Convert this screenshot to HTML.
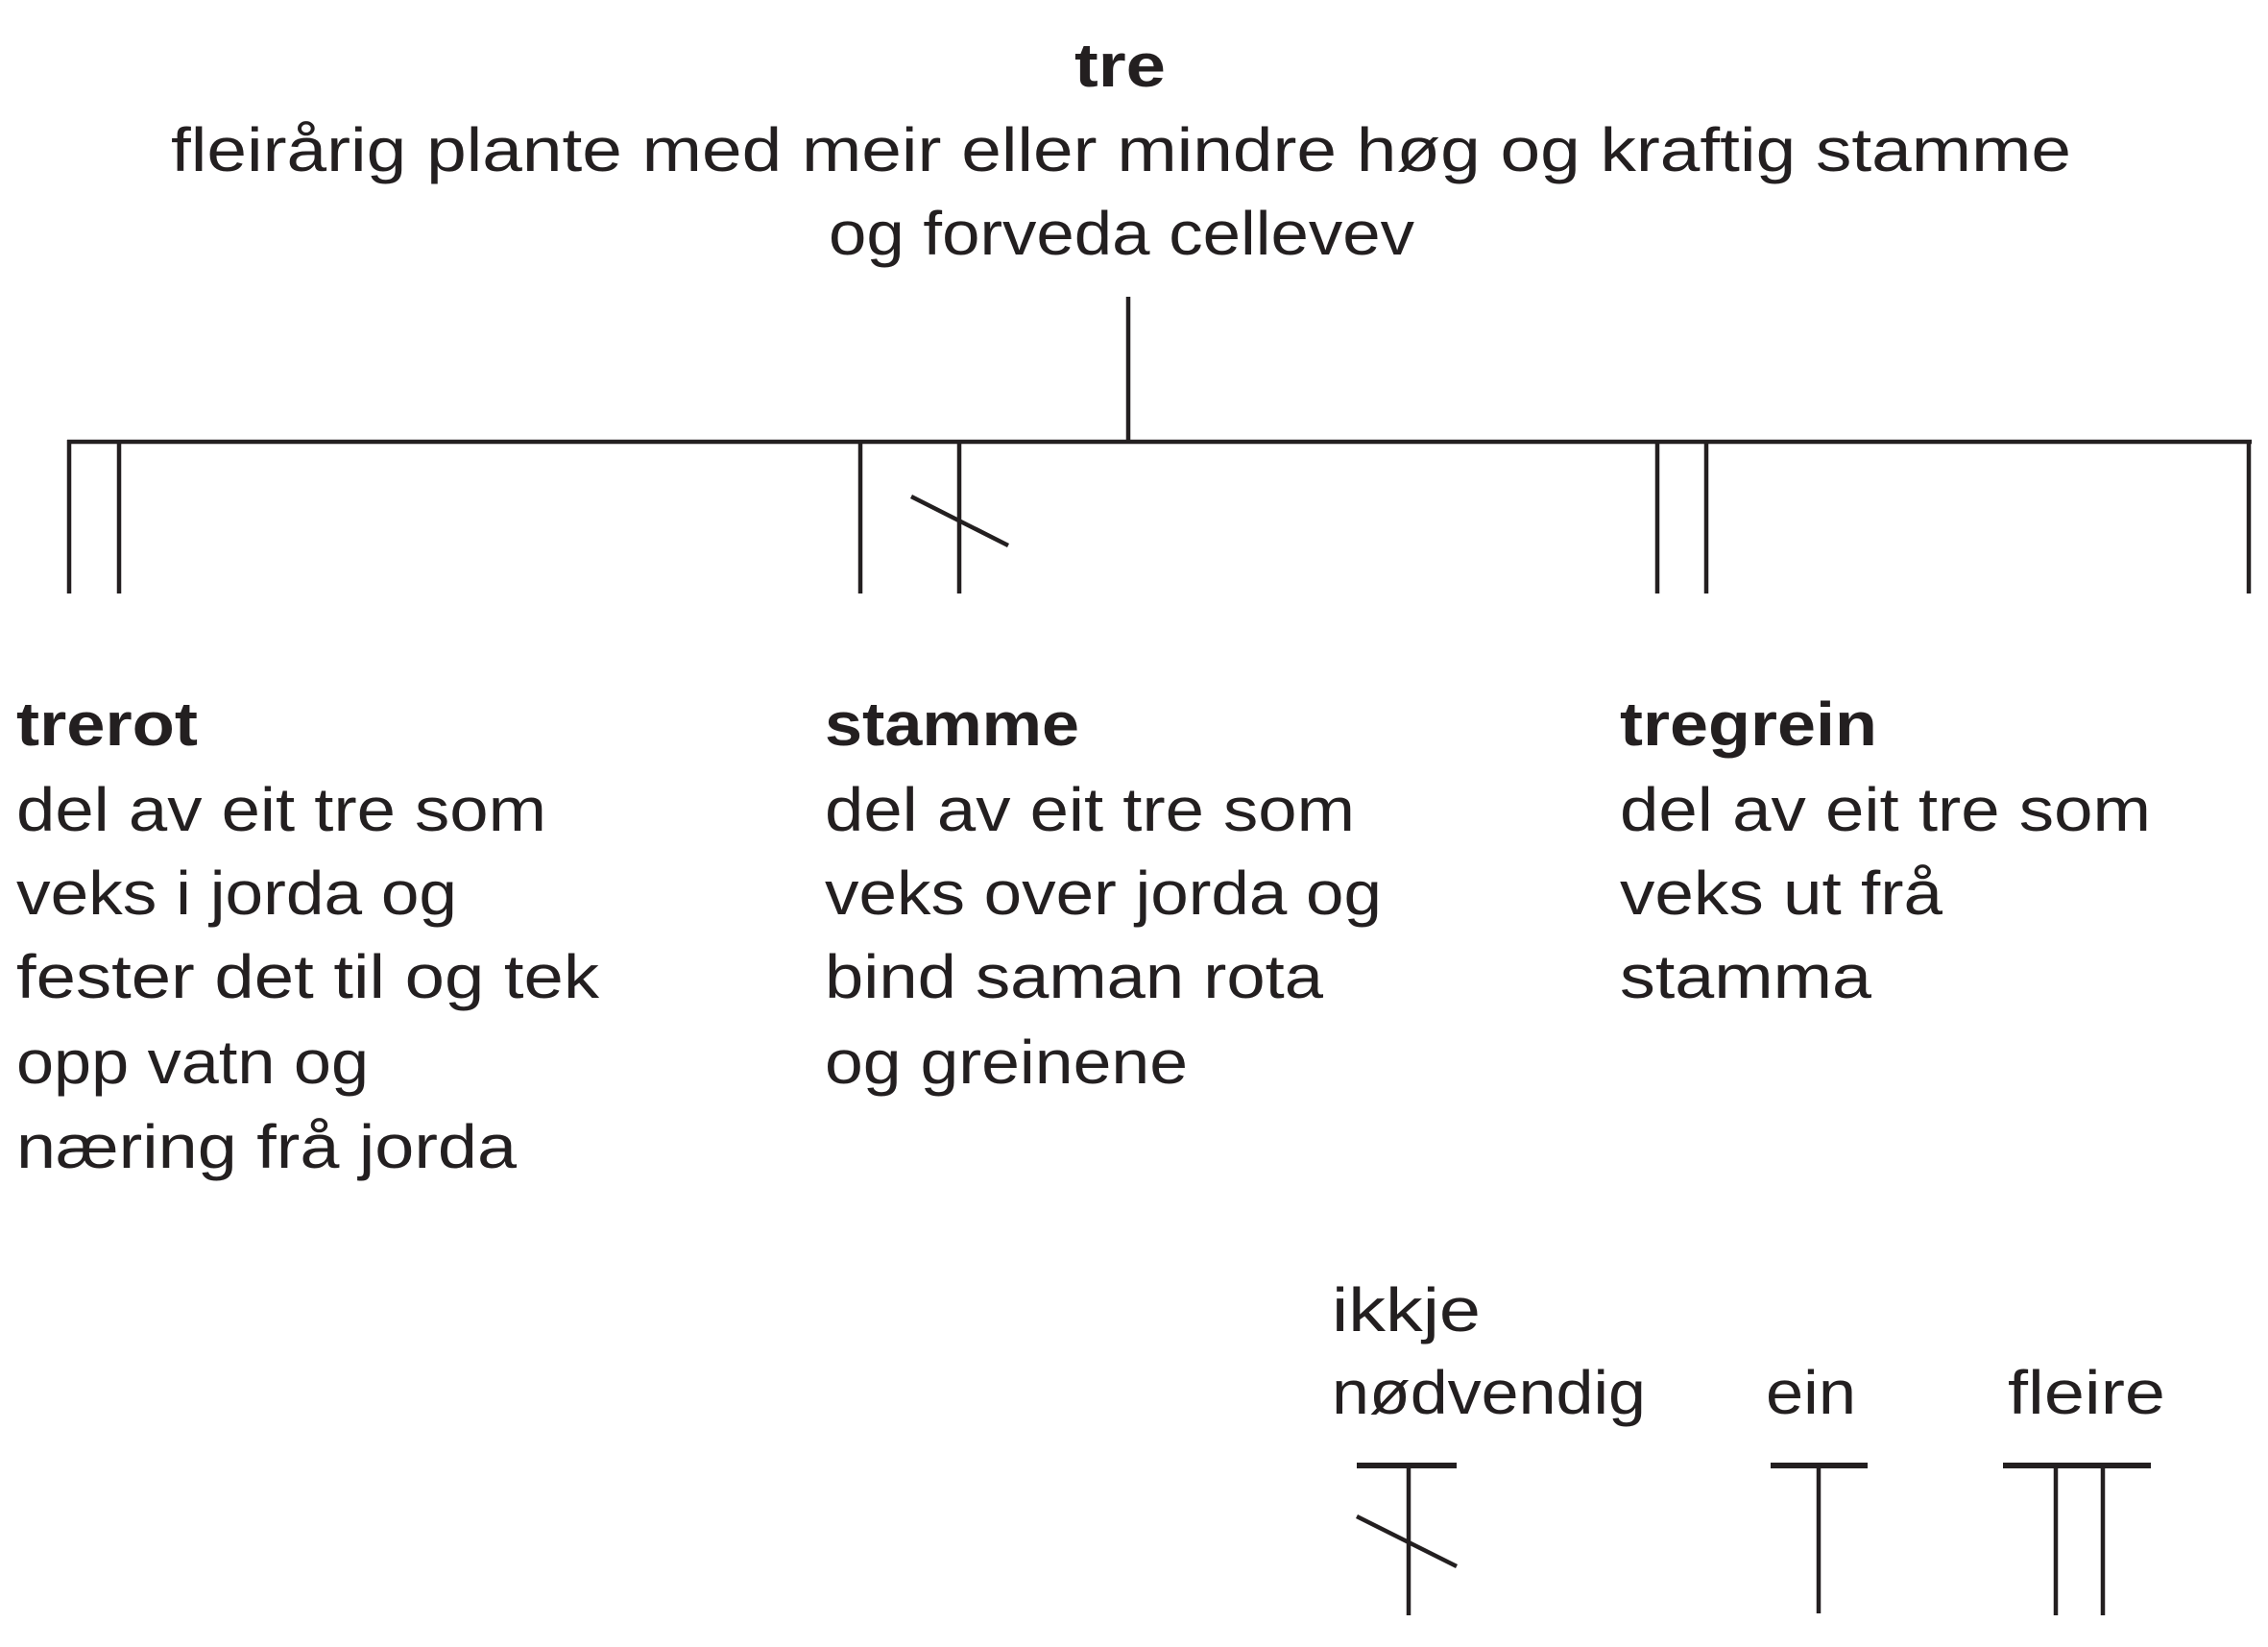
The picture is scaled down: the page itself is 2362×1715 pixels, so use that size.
<!DOCTYPE html>
<html><head><meta charset="utf-8"><style>
html,body{margin:0;padding:0;background:#fff;}
svg{display:block;}
text{font-family:"Liberation Sans",sans-serif;fill:#231f20;font-size:64px;}
.b{font-weight:bold;}
</style></head><body>
<svg width="2362" height="1715" viewBox="0 0 2362 1715">
<g stroke="#231f20" stroke-width="4.5" fill="none">
<line x1="1175" y1="309" x2="1175" y2="460"/>
<line x1="70" y1="460" x2="2345" y2="460"/>
<line x1="72" y1="458" x2="72" y2="618"/>
<line x1="124" y1="458" x2="124" y2="618"/>
<line x1="896" y1="458" x2="896" y2="618"/>
<line x1="999" y1="458" x2="999" y2="618"/>
<line x1="949" y1="517" x2="1050" y2="568"/>
<line x1="1726" y1="458" x2="1726" y2="618"/>
<line x1="1777" y1="458" x2="1777" y2="618"/>
<line x1="2342" y1="458" x2="2342" y2="618"/>
</g>
<g>
<text class="b" x="1119" y="90" textLength="95" lengthAdjust="spacingAndGlyphs">tre</text>
<text x="178" y="178" textLength="1979" lengthAdjust="spacingAndGlyphs">fleirårig plante med meir eller mindre høg og kraftig stamme</text>
<text x="863" y="265" textLength="610" lengthAdjust="spacingAndGlyphs">og forveda cellevev</text>
</g>
<g>
<text class="b" x="17" y="776" textLength="189" lengthAdjust="spacingAndGlyphs">trerot</text>
<text x="17" y="865" textLength="552" lengthAdjust="spacingAndGlyphs">del av eit tre som</text>
<text x="17" y="952" textLength="459" lengthAdjust="spacingAndGlyphs">veks i jorda og</text>
<text x="17" y="1039" textLength="607" lengthAdjust="spacingAndGlyphs">fester det til og tek</text>
<text x="17" y="1128" textLength="367" lengthAdjust="spacingAndGlyphs">opp vatn og</text>
<text x="17" y="1216" textLength="521" lengthAdjust="spacingAndGlyphs">næring frå jorda</text>
</g>
<g>
<text class="b" x="859" y="776" textLength="265" lengthAdjust="spacingAndGlyphs">stamme</text>
<text x="859" y="865" textLength="552" lengthAdjust="spacingAndGlyphs">del av eit tre som</text>
<text x="859" y="952" textLength="580" lengthAdjust="spacingAndGlyphs">veks over jorda og</text>
<text x="859" y="1039" textLength="519" lengthAdjust="spacingAndGlyphs">bind saman rota</text>
<text x="859" y="1128" textLength="378" lengthAdjust="spacingAndGlyphs">og greinene</text>
</g>
<g>
<text class="b" x="1687" y="776" textLength="268" lengthAdjust="spacingAndGlyphs">tregrein</text>
<text x="1687" y="865" textLength="553" lengthAdjust="spacingAndGlyphs">del av eit tre som</text>
<text x="1687" y="952" textLength="336" lengthAdjust="spacingAndGlyphs">veks ut frå</text>
<text x="1687" y="1039" textLength="262" lengthAdjust="spacingAndGlyphs">stamma</text>
</g>
<g>
<text x="1387" y="1386" textLength="155" lengthAdjust="spacingAndGlyphs">ikkje</text>
<text x="1387" y="1472" textLength="327" lengthAdjust="spacingAndGlyphs">nødvendig</text>
<text x="1839" y="1472" textLength="94" lengthAdjust="spacingAndGlyphs">ein</text>
<text x="2091" y="1472" textLength="164" lengthAdjust="spacingAndGlyphs">fleire</text>
<g stroke="#231f20" fill="none">
<line x1="1413" y1="1526" x2="1517" y2="1526" stroke-width="6"/>
<line x1="1467" y1="1526" x2="1467" y2="1682" stroke-width="4.5"/>
<line x1="1413" y1="1579" x2="1517" y2="1631" stroke-width="4.5"/>
<line x1="1844" y1="1526" x2="1945" y2="1526" stroke-width="6"/>
<line x1="1894" y1="1526" x2="1894" y2="1680" stroke-width="4.5"/>
<line x1="2086" y1="1526" x2="2240" y2="1526" stroke-width="6"/>
<line x1="2141" y1="1526" x2="2141" y2="1682" stroke-width="4.5"/>
<line x1="2190" y1="1526" x2="2190" y2="1682" stroke-width="4.5"/>
</g>
</g>
</svg>
</body></html>
